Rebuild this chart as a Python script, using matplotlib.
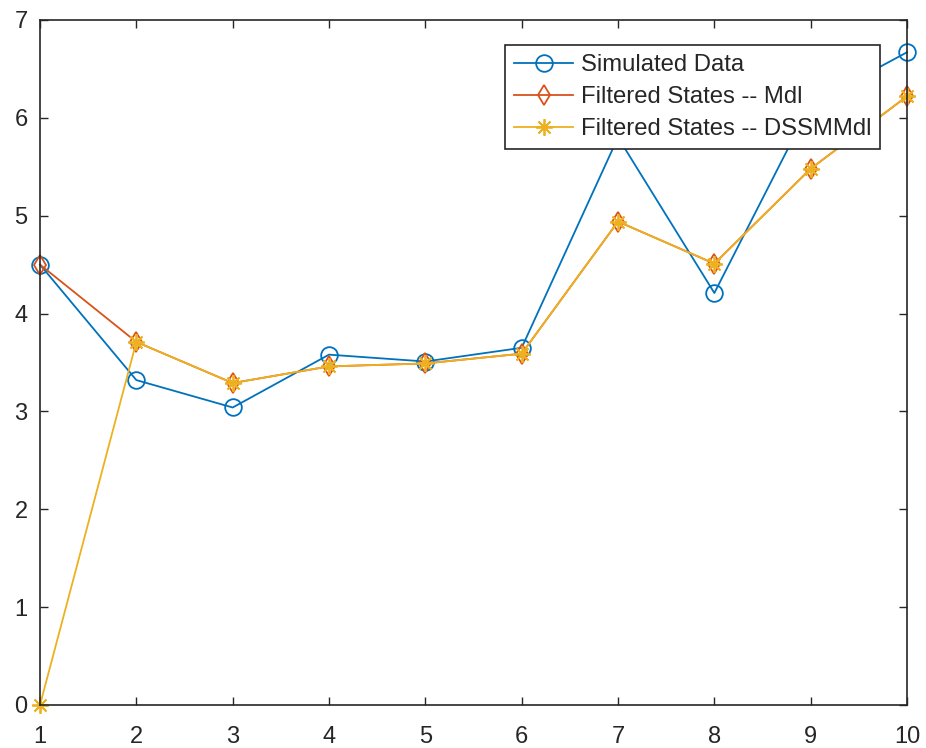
import matplotlib
matplotlib.use("Agg")
import matplotlib.pyplot as plt

plt.rcParams['font.family'] = ['Liberation Sans', 'DejaVu Sans']

# values
steps = [1, 2, 3, 4, 5, 6, 7, 8, 9, 10]
simulated = [4.50, 3.32, 3.04, 3.58, 3.51, 3.65, 5.80, 4.21, 6.14, 6.67]
filtered_mdl = [4.50, 3.71, 3.29, 3.46, 3.49, 3.59, 4.94, 4.51, 5.48, 6.22]
filtered_dssm = [0.00, 3.71, 3.29, 3.46, 3.49, 3.59, 4.94, 4.51, 5.48, 6.22]

labels = ['Simulated Data', 'Filtered States -- Mdl',
          'Filtered States -- DSSMMdl']

fig = plt.figure(figsize=(9.26, 7.48), dpi=100)
ax = fig.add_axes([0.0432, 0.0575, 0.9363, 0.9158])

ax.plot(steps, simulated, color='#0072BD', lw=1.3, marker='o', ms=12,
        mfc='none', mew=1.3, label=labels[0], clip_on=False)
ax.plot(steps, filtered_mdl, color='#D95319', lw=1.3, marker='d', ms=10.2,
        mfc='none', mew=1.3, label=labels[1], clip_on=False)
ax.plot(steps, filtered_dssm, color='#EDB120', lw=1.3, marker=(8, 2, 0),
        ms=12, mew=1.3, label=labels[2], clip_on=False)

ax.set_xlim(1, 10)
ax.set_ylim(0, 7)
ax.set_xticks(steps)
ax.set_yticks(range(8))
ax.tick_params(direction='in', length=6, width=1, colors='#262626',
               labelsize=17, top=True, right=True, labeltop=False,
               labelright=False, pad=9)
ax.tick_params(axis='x', pad=15)
for s in ax.spines.values():
    s.set_color('#262626')
    s.set_linewidth(1.2)

leg = ax.legend(loc='upper right', bbox_to_anchor=(0.969, 0.9635),
                prop={'size': 17.2}, frameon=True, fancybox=False,
                framealpha=1, edgecolor='#262626', borderpad=0.38,
                labelspacing=0.42, handlelength=2.5, handletextpad=0.3,
                borderaxespad=0)
leg.get_frame().set_linewidth(1.2)
for t in leg.get_texts():
    t.set_color('#262626')

fig.savefig('out.png', dpi=100)
